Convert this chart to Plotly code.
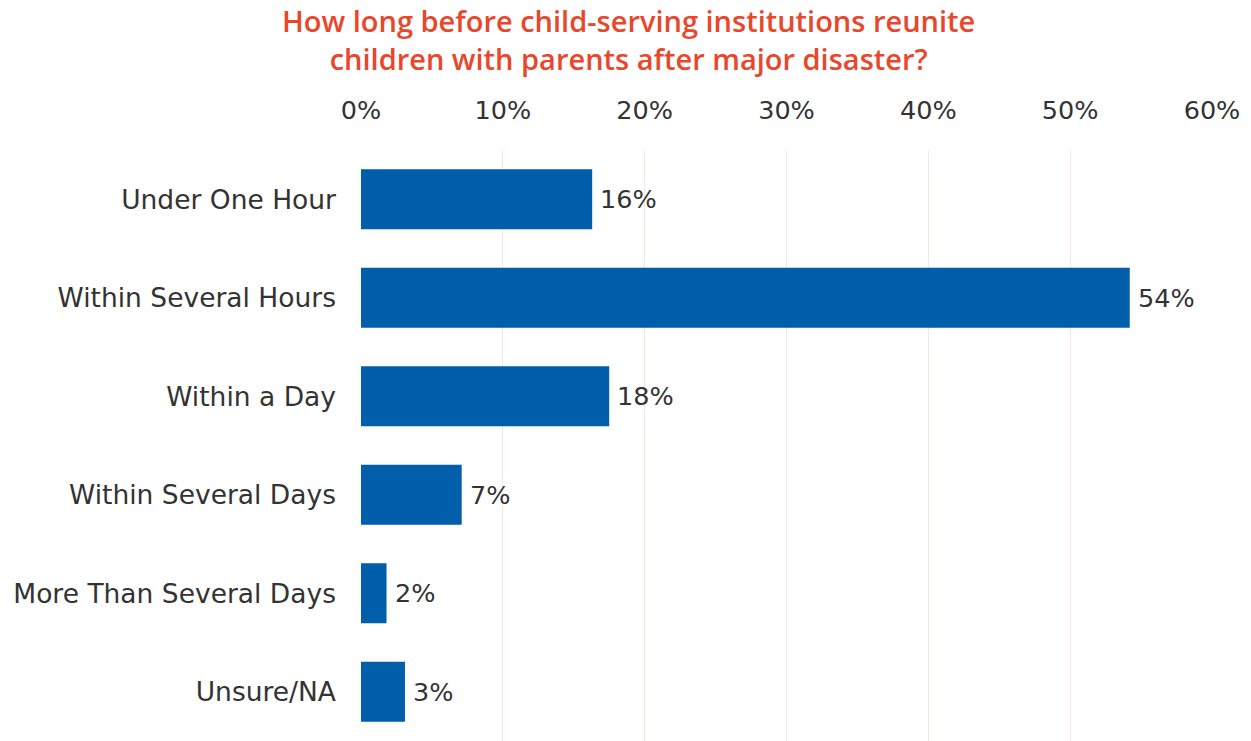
import plotly.graph_objects as go

categories = [
    "Under One Hour",
    "Within Several Hours",
    "Within a Day",
    "Within Several Days",
    "More Than Several Days",
    "Unsure/NA",
]
shares = [16.3, 54.2, 17.5, 7.1, 1.8, 3.1]
tick_values = [0, 10, 20, 30, 40, 50, 60]
tick_labels = ["0%", "10%", "20%", "30%", "40%", "50%", "60%"]
title_text = ("How long before child-serving institutions reunite<br>"
              "children with parents after major disaster?")

BAR_COLOR = "#005EAA"
TEXT_COLOR = "#333333"
TITLE_COLOR = "#E8472B"
GRID_COLOR = "#FBE4E1"
FONT = "'DejaVu Sans', 'Open Sans', sans-serif"
TITLE_FONT = "'Open Sans', Roboto, sans-serif"
LABEL_SIZE = 25.5
CATEGORY_SIZE = 26.5

fig = go.Figure(
    go.Bar(
        x=shares,
        y=categories,
        orientation="h",
        marker=dict(color=BAR_COLOR, line=dict(width=0)),
        width=0.61,
        hoverinfo="x+y",
    )
)

# value labels just past the end of each bar
for cat, v in zip(categories, shares):
    fig.add_annotation(
        x=v, y=cat, xref="x", yref="y",
        text=f"{v:.0f}%",
        xanchor="left", yanchor="middle",
        xshift=6,
        showarrow=False,
        font=dict(size=LABEL_SIZE, color=TEXT_COLOR, family=FONT),
    )

fig.add_annotation(
    text=title_text,
    xref="paper", yref="paper",
    x=(628 - 361) / 851, y=1 + (150 - 40) / 591,
    xanchor="center", yanchor="middle",
    showarrow=False,
    align="center",
    font=dict(size=29, color=TITLE_COLOR, family=TITLE_FONT, weight=600),
)

fig.update_layout(
    width=1251,
    height=741,
    margin=dict(l=361, r=39, t=150, b=0),
    paper_bgcolor="white",
    plot_bgcolor="white",
    showlegend=False,
    font=dict(family=FONT, color=TEXT_COLOR),
)

fig.update_xaxes(
    side="top",
    range=[0, 60],
    tickvals=tick_values,
    ticktext=tick_labels,
    tickfont=dict(size=LABEL_SIZE, color=TEXT_COLOR),
    showgrid=True,
    gridcolor=GRID_COLOR,
    gridwidth=1,
    zeroline=False,
    showline=False,
    ticks="",
    ticklabelstandoff=25,
)
fig.update_yaxes(
    categoryorder="array",
    categoryarray=categories,
    autorange="reversed",
    tickfont=dict(size=CATEGORY_SIZE, color=TEXT_COLOR),
    showgrid=False,
    zeroline=False,
    showline=False,
    ticks="",
    ticklabelstandoff=24,
)

fig.write_html("out.html")
